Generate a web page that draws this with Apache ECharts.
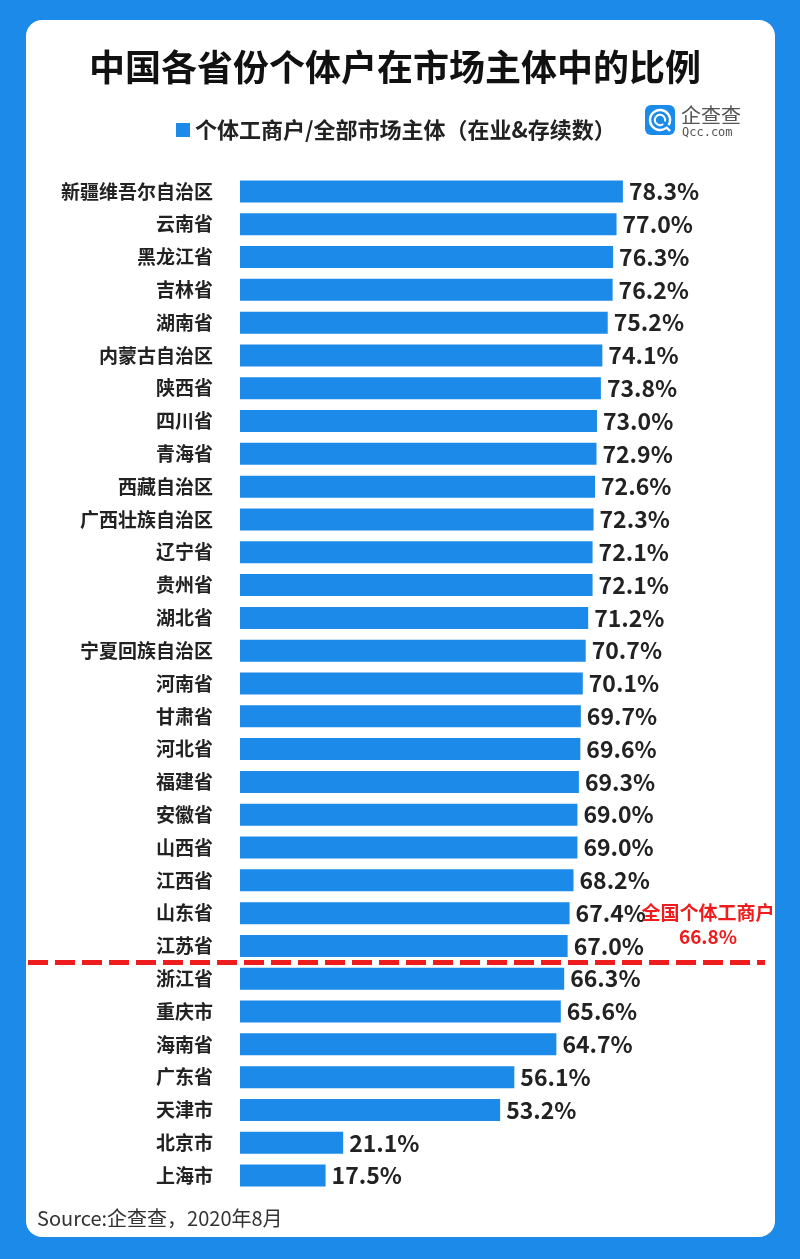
<!DOCTYPE html>
<html>
<head>
<meta charset="utf-8">
<script src="https://cdn.jsdelivr.net/npm/echarts@6/dist/echarts.min.js"></script>
<style>
html,body{margin:0;padding:0;background:#1c8ae8;}
#chart{width:800px;height:1259px;}
</style>
</head>
<body>
<div id="chart"></div>
<script>
const provinces = ['新疆维吾尔自治区','云南省','黑龙江省','吉林省','湖南省','内蒙古自治区','陕西省','四川省','青海省','西藏自治区','广西壮族自治区','辽宁省','贵州省','湖北省','宁夏回族自治区','河南省','甘肃省','河北省','福建省','安徽省','山西省','江西省','山东省','江苏省','浙江省','重庆市','海南省','广东省','天津市','北京市','上海市'];
const shares = [78.3,77.0,76.3,76.2,75.2,74.1,73.8,73.0,72.9,72.6,72.3,72.1,72.1,71.2,70.7,70.1,69.7,69.6,69.3,69.0,69.0,68.2,67.4,67.0,66.3,65.6,64.7,56.1,53.2,21.1,17.5];
const nationalAvg = 66.8;
const seriesName = '个体工商户/全部市场主体（在业&存续数）';
const titleText = '中国各省份个体户在市场主体中的比例';
const sourceText = 'Source:企查查，2020年8月';
const nationalLabel = '全国个体工商户';

const BLUE = '#1c8ae8';
const RED = '#ee1c1c';
const FONT = '"Noto Sans CJK SC", "Noto Sans", sans-serif';

// position of the national line between categories (derived from data)
const nationalPos = shares.filter(v => v >= nationalAvg).length - 0.5;

const chart = echarts.init(document.getElementById('chart'), null, {renderer: 'canvas'});
const gridTop = 175, gridBottom = 67;

chart.setOption({
  backgroundColor: BLUE,
  animation: false,
  textStyle: {fontFamily: FONT},
  title: {
    text: titleText,
    left: 390, top: 44, textAlign: 'center',
    textStyle: {fontSize: 36, fontWeight: 'bold', color: '#111', fontFamily: FONT}
  },
  legend: {
    data: [seriesName],
    left: 171, top: 113,
    icon: 'rect', itemWidth: 14, itemHeight: 14, itemGap: 10,
    textStyle: {fontSize: 22, fontWeight: 'bold', color: '#222', fontFamily: FONT, lineHeight: 24}
  },
  graphic: [
    {type: 'rect', z: -10, shape: {x: 26, y: 20, width: 749, height: 1217, r: 16}, style: {fill: '#fff'}},
    {type: 'rect', shape: {x: 645, y: 105, width: 30, height: 30, r: 6}, style: {fill: BLUE}},
    {type: 'arc', shape: {cx: 660, cy: 120, r: 10, startAngle: 0.9, endAngle: 0.55 + Math.PI * 2}, style: {stroke: '#fff', lineWidth: 2.4, fill: null}},
    {type: 'arc', shape: {cx: 660, cy: 120, r: 5.2, startAngle: 0.9, endAngle: 0.3 + Math.PI * 2}, style: {stroke: '#fff', lineWidth: 2, fill: null}},
    {type: 'line', shape: {x1: 666, y1: 127, x2: 670, y2: 131}, style: {stroke: '#fff', lineWidth: 2.4}},
    {type: 'text', x: 681, y: 115, style: {text: '企查查', fontSize: 20, fill: '#555', fontFamily: FONT, verticalAlign: 'middle'}},
    {type: 'text', x: 682, y: 133, style: {text: 'Qcc.com', fontSize: 12, fill: '#555', fontFamily: '"DejaVu Sans Mono"', verticalAlign: 'middle'}},
    {type: 'text', x: 37, y: 1218, style: {text: sourceText, fontSize: 20, fill: '#333', fontFamily: FONT, verticalAlign: 'middle'}}
  ],
  grid: [
    {left: 240, right: 71, top: gridTop, bottom: gridBottom, containLabel: false},
    {left: 28, right: 35, top: gridTop, bottom: gridBottom, containLabel: false}
  ],
  xAxis: [
    {type: 'value', gridIndex: 0, min: 0, max: 100, show: false},
    {type: 'value', gridIndex: 1, min: 0, max: 1, show: false}
  ],
  yAxis: [
    {
      type: 'category', gridIndex: 0, data: provinces, inverse: true,
      axisLine: {show: false}, axisTick: {show: false}, splitLine: {show: false},
      axisLabel: {fontSize: 19, fontWeight: 'bold', color: '#222', margin: 27, fontFamily: FONT}
    },
    {type: 'value', gridIndex: 1, min: -0.5, max: provinces.length - 0.5, inverse: true, show: false}
  ],
  series: [
    {
      name: seriesName,
      type: 'bar', xAxisIndex: 0, yAxisIndex: 0,
      data: shares, barWidth: 22,
      itemStyle: {color: BLUE},
      label: {
        show: true, position: 'right', distance: 6,
        formatter: p => p.value.toFixed(1) + '%',
        fontSize: 23, fontWeight: 600, color: '#222', fontFamily: FONT
      }
    },
    {
      name: 'national',
      type: 'line', xAxisIndex: 1, yAxisIndex: 1,
      data: [], showSymbol: false, silent: true,
      markLine: {
        silent: true, symbol: ['none', 'none'],
        lineStyle: {color: RED, type: [20, 7], width: 5},
        label: {
          show: true, position: 'insideEndTop', distance: [57, 14],
          align: 'center',
          formatter: nationalLabel + '\n' + nationalAvg.toFixed(1) + '%',
          color: RED, fontSize: 19, fontWeight: 'bold', lineHeight: 24, fontFamily: FONT
        },
        data: [{yAxis: nationalPos}]
      }
    }
  ]
});
</script>
</body>
</html>
